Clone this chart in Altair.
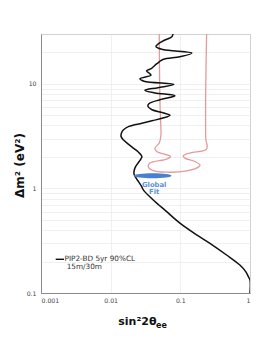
import altair as alt
import pandas as pd

# Black exclusion curve (PIP2-BD 5yr 90%CL 15m/30m)
black_dm2 = [30, 28.3, 25.4, 22.7, 21.3, 19.7, 18.2, 17.1, 15.6, 14.1, 13.3, 12.5, 12.1, 11.2, 10.6,
             9.9, 9.2, 8.7, 8.2, 7.7, 7.06, 6.46, 6.09, 5.66, 5.30, 5.01, 4.71, 4.44, 4.20, 3.92,
             3.64, 3.39, 3.14, 2.92, 2.67, 2.43, 2.24, 2.03, 1.92, 1.80, 1.64, 1.51, 1.38, 1.26, 1.16,
             1.04, 0.97, 0.78, 0.60, 0.466, 0.360, 0.299, 0.231, 0.185, 0.159, 0.143, 0.133, 0.1]
black_sin = [0.0784, 0.0757, 0.0544, 0.0447, 0.0562, 0.1466, 0.0986, 0.0562, 0.0461, 0.0387, 0.0328,
             0.0366, 0.0378, 0.0263, 0.0301, 0.0809, 0.0477, 0.0310, 0.0432, 0.0837, 0.0509, 0.0354,
             0.0343, 0.0392, 0.0562, 0.0710, 0.0562, 0.0392, 0.0281, 0.0183, 0.0153, 0.0143, 0.0141,
             0.0152, 0.0177, 0.0211, 0.0247, 0.0281, 0.0272, 0.0255, 0.0231, 0.0219, 0.0216, 0.0231,
             0.0251, 0.0279, 0.0294, 0.0405, 0.0636, 0.0986, 0.1714, 0.266, 0.461, 0.716, 0.873,
             0.948, 1.0, 1.0]

# Pink allowed-region contour
pink_sin = [0.0498, 0.0502, 0.0509, 0.0520, 0.0527, 0.0498, 0.0432, 0.0457, 0.0726, 0.0636, 0.0366,
            0.0346, 0.0408, 0.0636, 0.1230, 0.1866, 0.1910, 0.1618, 0.1164, 0.1102, 0.1374, 0.2328,
            0.2432, 0.2328, 0.2306, 0.2306, 0.2340, 0.2382]
pink_dm2 = [30, 15, 7.0, 4.5, 3.26, 2.72, 2.43, 2.26, 2.02, 1.91, 1.75, 1.62, 1.48, 1.43, 1.47, 1.62,
            1.68, 1.81, 1.95, 2.05, 2.18, 2.34, 2.52, 2.92, 4.5, 7.0, 15, 30]

# Global fit
fit_sin = [0.0401]
fit_dm2 = [1.32]
fit_labels = ["Global", "Fit"]

legend_lines = ["PIP2-BD 5yr 90%CL", "15m/30m"]

x_ticks = [0.001, 0.01, 0.1, 1]
y_ticks = [0.1, 0.2, 0.3, 0.4, 0.5, 0.6, 0.7, 0.8, 0.9, 1, 2, 3, 4, 5, 6, 7, 8, 9, 10, 20, 30]

black_df = pd.DataFrame({"sin": black_sin, "dm2": black_dm2, "o": list(range(len(black_sin)))})
pink_df = pd.DataFrame({"sin": pink_sin, "dm2": pink_dm2, "o": list(range(len(pink_sin)))})
fit_df = pd.DataFrame({"sin": fit_sin, "dm2": fit_dm2, "g": [fit_labels[0]], "f": [fit_labels[1]]})
leg_df = pd.DataFrame({"a": [legend_lines[0]], "b": [legend_lines[1]]})
title_df = pd.DataFrame({"main": ["sin²2θ"], "sub": ["ee"]})

FONT = "DejaVu Sans"

xenc = alt.X("sin:Q", scale=alt.Scale(type="log", domain=[0.001, 1]),
             axis=alt.Axis(values=x_ticks, title=None, labelExpr="format(datum.value, '~g')",
                           grid=True, ticks=False, labelPadding=4))
yenc = alt.Y("dm2:Q", scale=alt.Scale(type="log", domain=[0.1, 30]),
             axis=alt.Axis(values=y_ticks, title="Δm² (eV²)",
                           labelExpr="datum.value == 0.1 ? '0.1' : datum.value == 1 ? '1' : datum.value == 10 ? '10' : ''",
                           grid=True, ticks=False, labelPadding=5,
                           titleX=-21.5, titleY=131, titleAngle=270, titleAlign="center",
                           titleBaseline="middle", titleFontSize=12, titleFontWeight="bold",
                           titleColor="#111111", titleFont=FONT))

pink = alt.Chart(pink_df).mark_line(color="#e49a9a", strokeWidth=1.3, interpolate="catmull-rom",
                                    clip=True).encode(x=xenc, y=yenc, order="o:Q")
black = alt.Chart(black_df).mark_line(color="#111111", strokeWidth=1.5, interpolate="catmull-rom",
                                      clip=True).encode(x=xenc, y=yenc, order="o:Q")

ellipse_path = ("M-1,0 C-1,-0.0735 -0.552,-0.133 0,-0.133 C0.552,-0.133 1,-0.0735 1,0 "
                "C1,0.0735 0.552,0.133 0,0.133 C-0.552,0.133 -1,0.0735 -1,0 Z")
fit = alt.Chart(fit_df).mark_point(shape=ellipse_path, size=1421, filled=True, color="#4a80d4",
                                   opacity=1, strokeWidth=0).encode(x=xenc, y=yenc)
fit_t1 = alt.Chart(fit_df).mark_text(font=FONT, fontSize=6.8, fontWeight="bold", color="#5b8fd9",
                                     dx=1.5, dy=9.3).encode(x=xenc, y=yenc, text="g:N")
fit_t2 = alt.Chart(fit_df).mark_text(font=FONT, fontSize=6.8, fontWeight="bold", color="#5b8fd9",
                                     dx=1.5, dy=16.3).encode(x=xenc, y=yenc, text="f:N")

leg_rule = alt.Chart(leg_df).mark_rule(color="#111111", strokeWidth=1.4).encode(
    x=alt.value(14.7), x2=alt.value(23), y=alt.value(225.3))
leg_t1 = alt.Chart(leg_df).mark_text(font=FONT, fontSize=7.3, color="#333333", align="left",
                                     baseline="middle").encode(x=alt.value(23.5), y=alt.value(225.3), text="a:N")
leg_t2 = alt.Chart(leg_df).mark_text(font=FONT, fontSize=7.3, color="#333333", align="left",
                                     baseline="middle").encode(x=alt.value(25.7), y=alt.value(233.3), text="b:N")

xt_main = alt.Chart(title_df).mark_text(font=FONT, fontSize=11, fontWeight="bold", color="#111111",
                                        align="left", baseline="alphabetic").encode(
    x=alt.value(77.3), y=alt.value(291), text="main:N")
xt_sub = alt.Chart(title_df).mark_text(font=FONT, fontSize=8, fontWeight="bold", color="#111111",
                                       align="left", baseline="alphabetic").encode(
    x=alt.value(115), y=alt.value(294), text="sub:N")

chart = alt.layer(pink, black, fit, fit_t1, fit_t2, leg_rule, leg_t1, leg_t2, xt_main, xt_sub).properties(
    width=209, height=259,
    autosize=alt.AutoSizeParams(type="none"),
    padding={"left": 33, "top": 26, "right": 8, "bottom": 43},
).configure_axis(
    labelFont=FONT, labelFontSize=6.2, labelColor="#444444",
    gridColor="#e9e9e9", gridWidth=0.7,
    domainColor="#8a8a8a", domainWidth=1, tickSize=0,
).configure_view(stroke="#9a9a9a", strokeWidth=1)

chart.save("out.html", embed_options={"renderer": "svg", "actions": False})
